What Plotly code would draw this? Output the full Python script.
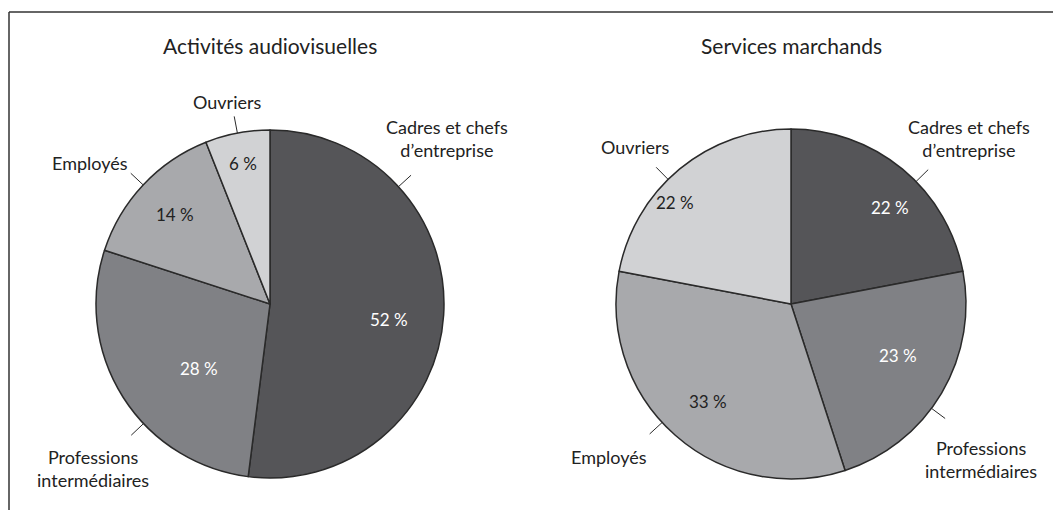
import math
import plotly.graph_objects as go

W, H = 1053, 510

# ---- data ----
categories = ["Cadres et chefs<br>d’entreprise", "Professions<br>intermédiaires", "Employés", "Ouvriers"]
titles = ["Activités audiovisuelles", "Services marchands"]
audiovisuel = [52, 28, 14, 6]
services = [22, 23, 33, 22]

# ---- style / layout ----
colors = ["#555558", "#808185", "#a8a9ac", "#d1d2d4"]
pct_font_colors = ["white", "white", "#222222", "#222222"]
FONT = "Lato"

pies = [
    dict(values=audiovisuel, cx=270, cy=304, r=174,
         pct_r=[0.69, 0.55, 0.75, 0.82], pct_nudge=[4, -10, 0, 0],
         lead_nudge=[-46, -11, 0, 0],
         lab_pos=[(447, 139), (93, 468), (90, 163), (227, 102)]),
    dict(values=services, cx=791, cy=304, r=175,
         pct_r=[0.79, 0.68, 0.73, 0.88], pct_nudge=[6, -5, -1, -9],
         lead_nudge=[6, 6, 6, -5],
         lab_pos=[(969, 139), (981, 459), (609, 457), (635, 147)]),
]


def px(x):
    return x / W


def py(y):
    return 1 - y / H


fig = go.Figure()
annotations = []
shapes = []

for i, p in enumerate(pies):
    cx, cy, r = p["cx"], p["cy"], p["r"]
    fig.add_trace(go.Pie(
        values=p["values"], labels=[c.replace("<br>", " ") for c in categories],
        sort=False, direction="clockwise", rotation=0,
        marker=dict(colors=colors, line=dict(color="#2a2a2a", width=1.5)),
        textinfo="none", hoverinfo="label+percent", showlegend=False,
        domain=dict(x=[px(cx - r), px(cx + r)], y=[py(cy + r), py(cy - r)]),
    ))
    total = sum(p["values"])
    cum = 0
    for j, v in enumerate(p["values"]):
        start = cum / total * 360
        cum += v
        end = cum / total * 360
        mid = (start + end) / 2
        # percentage label
        a = math.radians(mid + p["pct_nudge"][j])
        rr = r * p["pct_r"][j]
        tx, ty = cx + rr * math.sin(a), cy - rr * math.cos(a)
        annotations.append(dict(
            x=px(tx), y=py(ty), xref="paper", yref="paper", showarrow=False,
            text=f"{v} %", font=dict(family=FONT, size=17, color=pct_font_colors[j]),
            xanchor="center", yanchor="middle"))
        # leader line
        a2 = math.radians(mid + p["lead_nudge"][j])
        x0, y0 = cx + r * math.sin(a2), cy - r * math.cos(a2)
        x1, y1 = cx + (r + 17) * math.sin(a2), cy - (r + 17) * math.cos(a2)
        shapes.append(dict(type="line", xref="paper", yref="paper",
                           x0=px(x0), y0=py(y0), x1=px(x1), y1=py(y1),
                           line=dict(color="#2a2a2a", width=1)))
        # category label
        lx, ly = p["lab_pos"][j]
        annotations.append(dict(
            x=px(lx), y=py(ly), xref="paper", yref="paper", showarrow=False,
            text=categories[j], font=dict(family=FONT, size=18, color="#222222"),
            xanchor="center", yanchor="middle", align="center"))
    annotations.append(dict(
        x=px(cx), y=py(45), xref="paper", yref="paper", showarrow=False,
        text=titles[i], font=dict(family=FONT, size=21, color="#222222"),
        xanchor="center", yanchor="middle"))

# frame
shapes.append(dict(type="line", xref="paper", yref="paper",
                   x0=px(9), y0=py(12), x1=1, y1=py(12),
                   line=dict(color="#333333", width=1.5)))
shapes.append(dict(type="line", xref="paper", yref="paper",
                   x0=px(9), y0=py(12), x1=px(9), y1=0,
                   line=dict(color="#333333", width=1.5)))

fig.update_layout(
    width=W, height=H, margin=dict(l=0, r=0, t=0, b=0),
    paper_bgcolor="white", plot_bgcolor="white",
    annotations=annotations, shapes=shapes,
    font=dict(family=FONT),
)

fig.write_html("out.html", config={"displayModeBar": False},
               post_script="document.body.style.margin='0';document.body.style.overflow='hidden';")
